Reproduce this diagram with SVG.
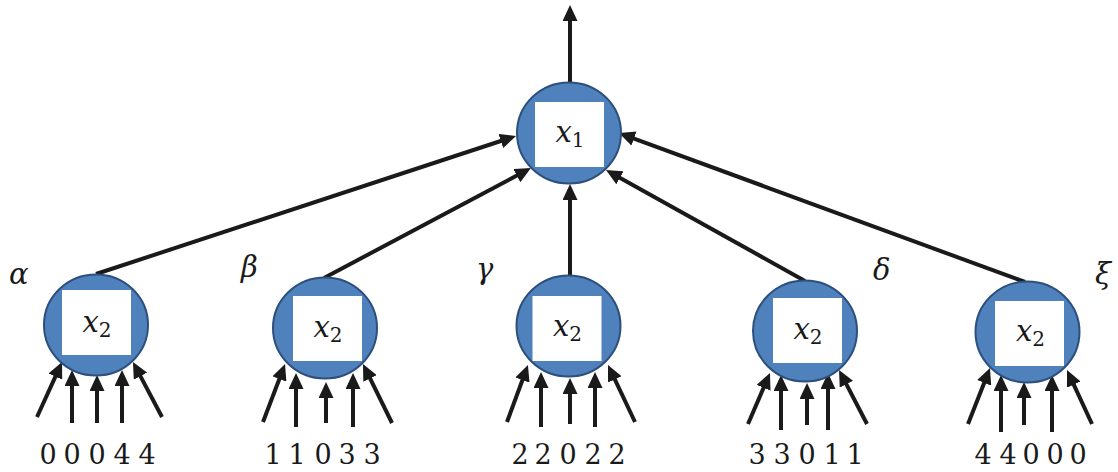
<svg xmlns="http://www.w3.org/2000/svg" width="1118" height="472" viewBox="0 0 1118 472">
  <defs>
    <style>
      .node-shape { fill: #4F81BD; stroke: #2C4F7C; stroke-width: 2; }
      .box { fill: #FFFFFF; }
      .edge { stroke: #1A1A1A; stroke-width: 4; fill: none; marker-end: url(#head); }
      .name { font-family: 'DejaVu Serif', serif; font-size: 29px; fill: #1A1A1A; text-anchor: middle; }
      .name .v { font-style: italic; }
      .name .s { font-size: 20px; }
      .greek { font-family: 'DejaVu Serif', serif; font-style: italic; font-size: 29px; fill: #1A1A1A; }
      .digits { font-family: 'DejaVu Serif', serif; font-size: 27px; fill: #1A1A1A; text-anchor: middle; }
    </style>
    <marker id="head" markerUnits="userSpaceOnUse" markerWidth="16" markerHeight="15" refX="8" refY="7.5" orient="auto">
      <path d="M0,0 L16,7.5 L0,15 z" fill="#1A1A1A"/>
    </marker>
  </defs>

  <rect width="1118" height="472" fill="#FFFFFF"/>

  <!-- connectors -->
  <g id="connectors">
    <!-- output of the root -->
    <line class="edge" x1="570" y1="83" x2="570" y2="13"/>
    <!-- children to root -->
    <line class="edge" x1="96" y1="274" x2="508.4" y2="138.5"/>
    <line class="edge" x1="324" y1="278" x2="523.9" y2="171.8"/>
    <line class="edge" x1="570" y1="275" x2="570" y2="192"/>
    <line class="edge" x1="805" y1="281" x2="613" y2="173.9"/>
    <line class="edge" x1="1025" y1="282" x2="626.5" y2="135.8"/>
    <!-- inputs of alpha -->
    <line class="edge" x1="37" y1="417" x2="58.7" y2="369.3"/>
    <line class="edge" x1="72" y1="423" x2="72" y2="378"/>
    <line class="edge" x1="97" y1="423" x2="97" y2="383"/>
    <line class="edge" x1="122" y1="423" x2="122" y2="378"/>
    <line class="edge" x1="162" y1="417" x2="136.7" y2="369.1"/>
    <!-- inputs of beta -->
    <line class="edge" x1="263" y1="422" x2="282.2" y2="371.5"/>
    <line class="edge" x1="296" y1="427" x2="296" y2="381"/>
    <line class="edge" x1="326" y1="423" x2="326" y2="390"/>
    <line class="edge" x1="353" y1="427" x2="353" y2="381"/>
    <line class="edge" x1="392" y1="423" x2="366.5" y2="371.2"/>
    <!-- inputs of gamma -->
    <line class="edge" x1="507" y1="422" x2="525.2" y2="372.5"/>
    <line class="edge" x1="541" y1="427" x2="541" y2="380"/>
    <line class="edge" x1="570" y1="424" x2="570" y2="386"/>
    <line class="edge" x1="595" y1="427" x2="595" y2="380"/>
    <line class="edge" x1="635" y1="422" x2="611.4" y2="372.2"/>
    <!-- inputs of delta -->
    <line class="edge" x1="748" y1="424" x2="766.8" y2="380.4"/>
    <line class="edge" x1="781" y1="430" x2="781" y2="383"/>
    <line class="edge" x1="807" y1="425" x2="807" y2="391"/>
    <line class="edge" x1="828" y1="430" x2="828" y2="381"/>
    <line class="edge" x1="867" y1="424" x2="842.7" y2="377.1"/>
    <!-- inputs of xi -->
    <line class="edge" x1="968" y1="424" x2="987.1" y2="375.4"/>
    <line class="edge" x1="1001" y1="432" x2="1001" y2="383"/>
    <line class="edge" x1="1024" y1="425" x2="1024" y2="390"/>
    <line class="edge" x1="1052" y1="432" x2="1052" y2="383"/>
    <line class="edge" x1="1092" y1="424" x2="1070.4" y2="377.3"/>
  </g>

  <!-- root node -->
  <g id="node-root" transform="translate(569,133)">
    <ellipse class="node-shape" rx="52" ry="50.5"/>
    <rect class="box" x="-34" y="-31" width="69" height="65"/>
    <text class="name" x="1" y="9"><tspan class="v">x</tspan><tspan class="s" dy="5">1</tspan></text>
  </g>

  <!-- child nodes -->
  <g id="node-alpha" transform="translate(96,325)">
    <ellipse class="node-shape" rx="52" ry="50.5"/>
    <rect class="box" x="-34" y="-35" width="69" height="65"/>
    <text class="name" x="1" y="7"><tspan class="v">x</tspan><tspan class="s" dy="5">2</tspan></text>
  </g>
  <g id="node-beta" transform="translate(325,328)">
    <ellipse class="node-shape" rx="52" ry="50.5"/>
    <rect class="box" x="-32" y="-32" width="69" height="65"/>
    <text class="name" x="3" y="9"><tspan class="v">x</tspan><tspan class="s" dy="5">2</tspan></text>
  </g>
  <g id="node-gamma" transform="translate(568.5,326)">
    <ellipse class="node-shape" rx="52" ry="50.5"/>
    <rect class="box" x="-36" y="-30" width="69" height="65"/>
    <text class="name" x="-1" y="10"><tspan class="v">x</tspan><tspan class="s" dy="5">2</tspan></text>
  </g>
  <g id="node-delta" transform="translate(805,331)">
    <ellipse class="node-shape" rx="52" ry="50.5"/>
    <rect class="box" x="-32" y="-33" width="69" height="65"/>
    <text class="name" x="3" y="8"><tspan class="v">x</tspan><tspan class="s" dy="5">2</tspan></text>
  </g>
  <g id="node-xi" transform="translate(1027.5,332)">
    <ellipse class="node-shape" rx="52" ry="50.5"/>
    <rect class="box" x="-32.5" y="-31" width="69" height="65"/>
    <text class="name" x="3" y="9"><tspan class="v">x</tspan><tspan class="s" dy="5">2</tspan></text>
  </g>

  <!-- branch labels -->
  <g id="labels">
    <text class="greek" x="9" y="284">α</text>
    <text class="greek" x="241" y="277">β</text>
    <text class="greek" x="476" y="279">γ</text>
    <text class="greek" x="873" y="280">δ</text>
    <text class="greek" x="1095" y="284">ξ</text>
  </g>

  <!-- input values -->
  <g id="inputs">
    <text class="digits" x="48 72 97 122 147" y="464">00044</text>
    <text class="digits" x="273 297 323 347 372" y="464">11033</text>
    <text class="digits" x="520 543 568 593 617" y="464">22022</text>
    <text class="digits" x="757 782 807 832 855" y="464">33011</text>
    <text class="digits" x="983 1008 1031 1055 1078" y="464">44000</text>
  </g>
</svg>
